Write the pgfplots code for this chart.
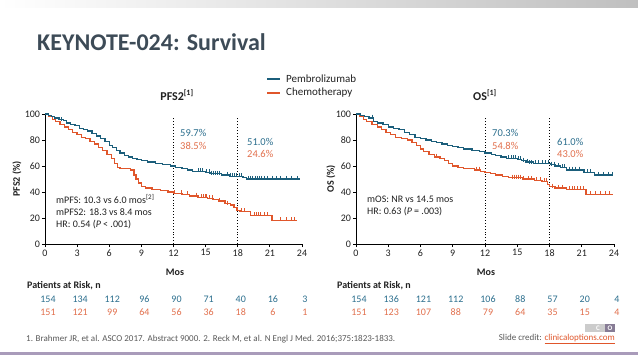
\documentclass[border=0pt]{standalone}
\usepackage{pgfplots}
\pgfplotsset{compat=1.18}
\usepackage{fontspec}
\setmainfont{Carlito}
\definecolor{pem}{HTML}{1B5E7B}
\definecolor{che}{HTML}{E0562B}
\definecolor{pemt}{HTML}{2C6F8E}
\definecolor{chet}{HTML}{E2704D}
\definecolor{titlec}{HTML}{3D4B57}
\definecolor{purp}{HTML}{A99BBA}
\definecolor{txt}{HTML}{222222}
\newcommand{\fs}[1]{\fontsize{#1}{#1}\selectfont}
\pgfplotsset{km/.style={
  scale only axis, width=257pt, height=130pt, anchor=south west,
  xmin=0, xmax=24, ymin=0, ymax=100,
  axis lines=left, axis line style={-, line width=0.9pt, black},
  xtick={0,3,...,24}, ytick={0,20,...,100},
  tick align=outside, major tick length=3pt,
  tick style={black, line width=0.8pt},
  ticklabel style={font=\fs{10}, text=txt},
  yticklabel style={xshift=1.5pt},
  xticklabel style={yshift=1pt},
  /pgf/number format/assume math mode=true,
  clip=false},
  pemline/.style={const plot, pem, line width=1.3pt},
  cheline/.style={const plot, che, line width=1.3pt},
  pemcens/.style={only marks, mark=|, pem, mark size=2pt, mark options={line width=0.6pt, yshift=1.2pt}},
  checens/.style={only marks, mark=|, che, mark size=2pt, mark options={line width=0.6pt, yshift=1.2pt}},
  refl/.style={black, dotted, line width=0.9pt}
}
\begin{document}
\begin{tikzpicture}
\path[use as bounding box, fill=white] (0,0) rectangle (638pt,-359pt);
\shade[left color=white, right color=black!25] (0,0) rectangle (638pt,-7pt);
\fill[purp] (0,-352pt) rectangle (638pt,-355pt);
\node[anchor=base west, inner sep=0pt, text=titlec, font=\fs{24}\bfseries] at (37pt,-50pt) {KEYNOTE-024: Survival};

% ---------- PFS2 ----------
\begin{axis}[km, at={(45pt,-244pt)}]
\addplot[refl] coordinates {(12,0) (12,98)};
\addplot[refl] coordinates {(18,0) (18,98)};
\addplot[cheline] coordinates {(0,100)(0.3,98)(0.7,96)(1.0,94)(1.4,92)(1.8,90)(2.2,88)(2.6,86)(3.0,84)(3.4,82)(3.8,81)(4.2,79)(4.6,77)(5.0,74)(5.4,72)(5.8,69)(6.2,66)(6.5,62)(6.8,59)(7.0,58)(8.0,57)(8.3,53)(8.5,50)(8.7,47)(9.0,44)(9.4,43)(10.0,42)(10.8,41)(11.5,40)(12.0,39)(12.8,38)(13.5,37)(14.3,36)(15.2,35)(15.7,34)(16.2,33)(16.8,31)(17.3,30)(17.6,28)(17.9,26)(18.2,25)(19.2,22)(21.2,18)(23.5,18)};
\addplot[checens] coordinates {(12.1,39)(12.7,39)(13.3,38)(14.1,37)(14.6,36)(14.8,36)(15.0,36)(15.1,36)(15.3,35)(15.6,35)(16.3,33)(17.0,31)(17.7,28)(18.0,26)(18.3,25)(18.6,25)(19.5,22)(19.7,22)(19.9,22)(20.1,22)(20.5,22)(20.8,22)(22.0,18)(22.5,18)(23.0,18)(23.3,18)};
\addplot[pemline] coordinates {(0,100)(0.3,99)(0.6,98)(0.9,97)(1.3,96)(1.7,95)(2.0,93)(2.4,92)(2.8,91)(3.2,89)(3.6,88)(4.0,87)(4.4,85)(4.8,83)(5.2,81)(5.6,79)(6.0,76)(6.3,74)(6.7,72)(7.0,70)(7.4,68)(7.8,67)(8.2,66)(8.6,65)(9.0,64)(9.6,63)(10.3,62)(11.0,61)(11.7,60)(12.2,59)(12.8,58)(13.3,57)(13.8,56)(14.5,56)(15.0,55)(15.4,54)(16.5,53)(17.2,52)(18.5,51)(18.8,50)(23.8,50)};
\addplot[pemcens] coordinates {(1.5,95)(14.3,56)(14.5,56)(14.7,56)(15.1,55)(15.3,55)(15.5,54)(15.7,54)(15.9,54)(16.1,54)(16.3,54)(17.0,53)(17.3,52)(17.5,52)(17.7,52)(17.9,52)(18.1,52)(18.3,52)(19.0,50)(19.2,50)(19.4,50)(19.6,50)(19.8,50)(20.0,50)(20.2,50)(20.5,50)(20.8,50)(21.2,50)(21.6,50)(22.0,50)(22.5,50)(23.0,50)(23.6,50)};
\end{axis}

% ---------- OS ----------
\begin{axis}[km, at={(356pt,-244pt)}, width=258pt]
\addplot[refl] coordinates {(12,0) (12,98)};
\addplot[refl] coordinates {(18,0) (18,98)};
\addplot[cheline] coordinates {(0,100)(0.3,98)(0.7,96)(1.0,94)(1.5,92)(2.0,90)(2.4,88)(2.8,86)(3.2,84)(3.7,82)(4.2,81)(4.8,80)(5.2,78)(5.6,76)(6.0,73)(6.3,71)(6.8,69)(7.3,67)(7.8,66)(8.2,64)(8.6,62)(9.0,60)(9.5,59)(10.0,58)(11.0,57)(11.6,56)(12.0,55)(12.5,54)(13.0,53)(13.6,52)(14.2,51)(15.5,50)(16.6,49)(17.3,48)(17.8,46)(18.0,44)(18.5,43)(19.6,42)(21.4,38)(23.9,38)};
\addplot[checens] coordinates {(7.5,67)(11.2,57)(11.5,57)(14.5,51)(14.7,51)(14.9,51)(15.1,51)(15.3,51)(15.6,50)(16.0,50)(16.3,50)(16.8,49)(17.1,49)(17.5,48)(17.7,48)(18.3,44)(18.8,43)(19.2,43)(19.8,42)(20.1,42)(20.3,42)(20.6,42)(20.9,42)(21.1,42)(21.8,38)(22.3,38)(22.7,38)(23.2,38)(23.6,38)};
\addplot[pemline] coordinates {(0,100)(0.4,99)(0.8,98)(1.2,97)(1.6,94)(2.0,93)(2.5,92)(3.0,90)(3.5,89)(4.0,88)(4.5,86)(5.0,84)(5.5,82)(6.0,81)(6.5,80)(7.0,79)(7.5,78)(8.0,77)(8.5,76)(9.0,75)(9.5,74)(10.0,73)(10.8,72)(11.5,71)(12.0,70)(12.6,69)(13.0,68)(13.5,67)(14.0,66)(15.0,65)(15.4,64)(15.8,63)(16.5,62)(18.1,61)(18.5,60)(19.0,59)(19.6,57)(21.2,55)(22.2,53)(23.9,53)};
\addplot[pemcens] coordinates {(1.5,97)(14.2,66)(14.4,66)(14.6,66)(14.8,66)(15.1,65)(15.3,65)(15.6,64)(15.9,63)(16.1,62)(16.3,62)(16.7,62)(17.0,62)(17.3,62)(17.6,62)(17.9,62)(18.2,61)(18.4,61)(18.8,60)(19.2,59)(19.4,59)(19.8,57)(20.1,57)(20.4,57)(20.8,57)(21.5,55)(21.8,55)(22.5,53)(23.0,53)(23.5,53)(23.8,53)};
\end{axis}

% titles and labels
\node[font=\fs{12}\bfseries, text=txt] at (177pt,-95pt) {PFS2\textsuperscript{[1]}};
\node[font=\fs{12}\bfseries, text=txt] at (485pt,-95pt) {OS\textsuperscript{[1]}};
\node[font=\fs{10}\bfseries, text=txt, rotate=90] at (17pt,-179pt) {PFS2 (\%)};
\node[font=\fs{10}\bfseries, text=txt, rotate=90] at (331pt,-179pt) {OS (\%)};
\node[font=\fs{10}\bfseries, text=txt] at (175pt,-272pt) {Mos};
\node[font=\fs{10}\bfseries, text=txt] at (486pt,-272pt) {Mos};

% legend
\draw[pem, line width=1.6pt] (267pt,-79pt) -- (280pt,-79pt);
\draw[che, line width=1.6pt] (267pt,-93pt) -- (280pt,-93pt);
\node[anchor=west, inner sep=0pt, font=\fs{11}, text=txt] at (286pt,-79pt) {Pembrolizumab};
\node[anchor=west, inner sep=0pt, font=\fs{11}, text=txt] at (286pt,-93pt) {Chemotherapy};

% percentages
\begin{scope}[every node/.style={anchor=west, inner sep=0pt, font=\fs{10.5}}]
\node[text=pemt] at (180pt,-133pt) {59.7\%};
\node[text=chet] at (180pt,-145.5pt) {38.5\%};
\node[text=pemt] at (247pt,-142pt) {51.0\%};
\node[text=chet] at (247pt,-154pt) {24.6\%};
\node[text=pemt] at (492pt,-133pt) {70.3\%};
\node[text=chet] at (492pt,-145.5pt) {54.8\%};
\node[text=pemt] at (557pt,-142pt) {61.0\%};
\node[text=chet] at (557pt,-154pt) {43.0\%};
\end{scope}

% stats
\begin{scope}[every node/.style={anchor=west, inner sep=0pt, font=\fs{10}, text=txt}]
\node at (56pt,-199pt) {mPFS: 10.3 vs 6.0 mos\textsuperscript{[2]}};
\node at (56pt,-212pt) {mPFS2: 18.3 vs 8.4 mos};
\node at (56pt,-225pt) {HR: 0.54 (\textit{P} < .001)};
\node at (367pt,-199pt) {mOS: NR vs 14.5 mos};
\node at (367pt,-212pt) {HR: 0.63 (\textit{P} = .003)};
\end{scope}

% patients at risk
\node[anchor=west, inner sep=0pt, font=\fs{10}\bfseries, text=txt] at (27pt,-286pt) {Patients at Risk, n};
\node[anchor=west, inner sep=0pt, font=\fs{10}\bfseries, text=txt] at (337pt,-286pt) {Patients at Risk, n};
\foreach \n [count=\i from 0] in {154,134,112,96,90,71,40,16,3}
  \node[font=\fs{10}, text=pemt] at ({(48+32.125*\i)*1pt},-299pt) {\n};
\foreach \n [count=\i from 0] in {151,121,99,64,56,36,18,6,1}
  \node[font=\fs{10}, text=chet] at ({(48+32.125*\i)*1pt},-312pt) {\n};
\foreach \n [count=\i from 0] in {154,136,121,112,106,88,57,20,4}
  \node[font=\fs{10}, text=pemt] at ({(359+32.25*\i)*1pt},-299pt) {\n};
\foreach \n [count=\i from 0] in {151,123,107,88,79,64,35,15,4}
  \node[font=\fs{10}, text=chet] at ({(359+32.25*\i)*1pt},-312pt) {\n};

% footer
\node[anchor=west, inner sep=0pt, font=\fs{9}, text=black!65] at (26pt,-339pt) {1. Brahmer JR, et al. ASCO 2017. Abstract 9000. 2. Reck M, et al. N Engl J Med. 2016;375:1823-1833.};
\node[anchor=east, inner sep=0pt, font=\fs{9}, text=black!65] at (615pt,-339pt) {Slide credit: \textcolor{che}{\underline{clinicaloptions.com}}};
\fill[black!20] (585pt,-324pt) rectangle (605pt,-332pt);
\fill[purp!80!black] (605pt,-324pt) rectangle (615pt,-332pt);
\node[font=\fs{7}\bfseries, text=white, inner sep=0pt] at (598pt,-328pt) {C};
\node[font=\fs{7}\bfseries, text=white, inner sep=0pt] at (610pt,-328pt) {O};
\end{tikzpicture}
\end{document}
